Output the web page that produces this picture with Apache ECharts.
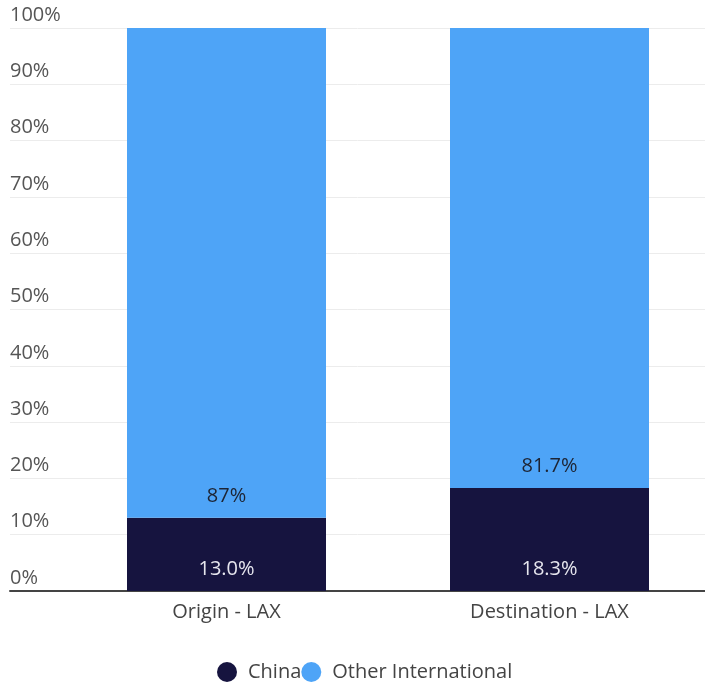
<!DOCTYPE html>
<html>
<head>
<meta charset="utf-8">
<script src="https://cdn.jsdelivr.net/npm/echarts@6/dist/echarts.min.js"></script>
<style>
  html, body { margin: 0; padding: 0; background: #ffffff; }
  #chart { width: 705px; height: 684px; }
</style>
</head>
<body>
<div id="chart"></div>
<script>
// Share of international air cargo by partner, LAX
const categories = ['Origin - LAX', 'Destination - LAX'];
const chinaShare = [13.0, 18.3];
const otherShare = [87, 81.7];
const yTicks = [0, 10, 20, 30, 40, 50, 60, 70, 80, 90, 100];

const FONT = '"Open Sans", "Noto Sans", sans-serif';
const TOP = 28, BOTTOM = 93;

const chart = echarts.init(document.getElementById('chart'));
chart.setOption({
  animation: false,
  textStyle: { fontFamily: FONT },
  legend: {
    bottom: 2,
    padding: 0,
    left: 217,
    icon: 'circle',
    itemWidth: 20,
    itemHeight: 20,
    itemGap: 0,
    textStyle: { fontSize: 20, color: '#444', fontFamily: FONT, padding: [0, 0, 0, 6] },
    data: ['China', 'Other International']
  },
  grid: [
    // background grid: tick labels, split lines, baseline
    { left: 10, right: 0, top: TOP, bottom: BOTTOM },
    // bars (band slightly wider than the canvas)
    { left: 65, width: 646, top: TOP, bottom: BOTTOM, outerBoundsMode: 'none', containLabel: false }
  ],
  xAxis: [
    {
      gridIndex: 0, type: 'value', min: 0, max: 1,
      axisLine: { show: true, onZero: false, lineStyle: { color: '#444', width: 2 } },
      axisTick: { show: false }, axisLabel: { show: false }, splitLine: { show: false }
    },
    {
      gridIndex: 1, type: 'category', data: categories,
      axisLine: { show: false }, axisTick: { show: false },
      axisLabel: { margin: 11, fontSize: 20, color: '#444', fontFamily: FONT }
    }
  ],
  yAxis: [
    {
      gridIndex: 0, type: 'value', min: yTicks[0], max: yTicks[yTicks.length - 1], interval: 10,
      axisLine: { show: false }, axisTick: { show: false },
      axisLabel: {
        inside: true, align: 'left', verticalAlign: 'bottom', margin: 0,
        padding: [0, 0, 3, 0],
        fontSize: 20, color: '#555', fontFamily: FONT,
        formatter: v => v + '%'
      },
      splitLine: { show: true, lineStyle: { color: '#ececec', width: 1 } }
    },
    {
      gridIndex: 1, type: 'value', min: 0, max: 100, interval: 10,
      axisLine: { show: false }, axisTick: { show: false },
      axisLabel: { show: false }, splitLine: { show: false }
    }
  ],
  series: [
    {
      name: 'China', type: 'bar', stack: 'share',
      xAxisIndex: 1, yAxisIndex: 1,
      barWidth: 199,
      data: chinaShare,
      itemStyle: { color: '#16143f' },
      label: {
        show: true, position: 'insideBottom', distance: 12,
        fontSize: 20, color: '#e6e6ee', fontFamily: FONT,
        formatter: p => p.value.toFixed(1) + '%'
      }
    },
    {
      name: 'Other International', type: 'bar', stack: 'share',
      xAxisIndex: 1, yAxisIndex: 1,
      barWidth: 199,
      data: otherShare,
      itemStyle: { color: '#4ea4f7' },
      label: {
        show: true, position: 'insideBottom', distance: 12,
        fontSize: 20, color: '#1d2433', fontFamily: FONT,
        formatter: p => p.value + '%'
      }
    }
  ]
});
</script>
</body>
</html>
